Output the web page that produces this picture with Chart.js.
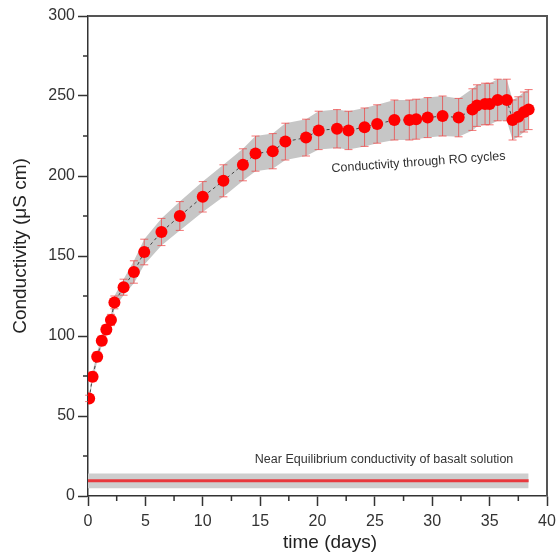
<!DOCTYPE html>
<html><head><meta charset="utf-8">
<script src="https://cdn.jsdelivr.net/npm/chart.js@4/dist/chart.umd.min.js"></script>
<style>html,body{margin:0;padding:0;background:#fff;} #wrap{width:558px;height:555px;}</style>
</head><body><div id="wrap"><canvas id="c" width="558" height="555"></canvas></div>
<script>
// ---- data ----
const days = [0.1, 0.4, 0.8, 1.2, 1.6, 2.0, 2.3, 3.1, 4.0, 4.9,
  6.4, 8.0, 10.0, 11.8, 13.5, 14.6, 16.1, 17.2, 19.0, 20.1,
  21.7, 22.7, 24.1, 25.2, 26.7, 28.0, 28.6, 29.6, 30.9, 32.3,
  33.5, 33.9, 34.6, 35.0, 35.7, 36.5, 37.0, 37.5, 38.0, 38.4];
const conductivity = [61, 74.5, 87, 97, 104, 110, 121, 130.5, 140, 152.5,
  165, 175, 187, 197, 207, 214, 215.5, 221.5, 224, 228.5,
  229.5, 228.5, 230.5, 232.5, 235, 235, 235.5, 236.5, 237.5, 236.5,
  241.5, 244, 245, 245, 247.5, 247.5, 235, 237, 240, 241.5];
const errors = [2, 3, 3, 3, 3, 3.5, 4, 5, 7, 8,
  8.5, 9, 9.5, 10, 10, 11, 11, 11.5, 11.5, 12,
  12, 12, 12, 12, 12.5, 12.5, 12.5, 12.5, 12.5, 12,
  13, 13, 13, 13, 13, 13, 12.5, 12.5, 12.5, 12.5];
const eqDays = [0, 38.4];
const eqValue = [9.5, 9.5];
const eqError = [4.6, 4.6];
const xTickValues = [0, 5, 10, 15, 20, 25, 30, 35, 40];
const yTickValues = [0, 50, 100, 150, 200, 250, 300];
const labelRO = 'Conductivity through RO cycles';
const labelEq = 'Near Equilibrium conductivity of basalt solution';
const xTitle = 'time (days)';
const yTitle = 'Conductivity (\u03BCS cm)';

// ---- build datasets ----
const pts = (xs, ys) => xs.map((x, i) => ({x: x, y: ys[i]}));
const upper = conductivity.map((v, i) => v + errors[i]);
const lower = conductivity.map((v, i) => v - errors[i]);
const eqUpper = eqValue.map((v, i) => v + eqError[i]);
const eqLower = eqValue.map((v, i) => v - eqError[i]);

const FONT = '"Liberation Sans", Arial, sans-serif';
const TXT = '#333333';

const extras = {
  id: 'extras',
  beforeDatasetDraw(chart, args) {
    if (args.index !== 5) return;
    const {ctx} = chart;
    const xs = chart.scales.x, ys = chart.scales.y;
    ctx.save();
    ctx.strokeStyle = 'rgba(238,70,70,0.75)';
    ctx.lineWidth = 1;
    days.forEach((d, i) => {
      const px = xs.getPixelForValue(d);
      const t = ys.getPixelForValue(upper[i]);
      const b = ys.getPixelForValue(lower[i]);
      ctx.beginPath();
      ctx.moveTo(px, t); ctx.lineTo(px, b);
      ctx.moveTo(px - 4, t); ctx.lineTo(px + 4, t);
      ctx.moveTo(px - 4, b); ctx.lineTo(px + 4, b);
      ctx.stroke();
    });
    ctx.restore();
  },
  afterDraw(chart) {
    const {ctx, chartArea: a} = chart;
    const xs = chart.scales.x, ys = chart.scales.y;
    ctx.save();
    // box top / right
    ctx.strokeStyle = '#555';
    ctx.lineWidth = 2;
    ctx.beginPath();
    ctx.moveTo(a.left, a.top); ctx.lineTo(a.right, a.top); ctx.lineTo(a.right, a.bottom);
    ctx.stroke();
    // minor ticks
    ctx.strokeStyle = '#333';
    ctx.lineWidth = 1.5;
    ctx.beginPath();
    xs.ticks.forEach(t => {
      if (xTickValues.includes(t.value)) return;
      const p = xs.getPixelForValue(t.value);
      ctx.moveTo(p, a.bottom); ctx.lineTo(p, a.bottom + 5);
    });
    ys.ticks.forEach(t => {
      if (yTickValues.includes(t.value)) return;
      const p = ys.getPixelForValue(t.value);
      ctx.moveTo(a.left, p); ctx.lineTo(a.left - 5, p);
    });
    ctx.stroke();
    // annotations
    ctx.fillStyle = TXT;
    ctx.font = '12.5px ' + FONT;
    ctx.textAlign = 'center';
    ctx.textBaseline = 'middle';
    ctx.save();
    ctx.translate(xs.getPixelForValue(28.8), ys.getPixelForValue(208.5));
    ctx.rotate(-4.2 * Math.PI / 180);
    ctx.fillText(labelRO, 0, 0);
    ctx.restore();
    ctx.fillText(labelEq, xs.getPixelForValue(25.8), ys.getPixelForValue(23));
    // axis titles
    ctx.fillStyle = '#222';
    ctx.font = '19px ' + FONT;
    ctx.fillText(xTitle, 330, 543);
    ctx.save();
    ctx.translate(21, 246);
    ctx.rotate(-Math.PI / 2);
    ctx.fillText(yTitle, 0, 0);
    ctx.restore();
    ctx.restore();
  }
};

new Chart(document.getElementById('c'), {
  type: 'line',
  data: {
    datasets: [
      {data: pts(days, upper), borderWidth: 0, pointRadius: 0, fill: '+1',
       backgroundColor: 'rgb(198,198,198)', borderColor: 'rgba(0,0,0,0)', order: 5},
      {data: pts(days, lower), borderWidth: 0, pointRadius: 0, fill: false,
       borderColor: 'rgba(0,0,0,0)', order: 5},
      {data: pts(eqDays, eqUpper), borderWidth: 0, pointRadius: 0, fill: '+1',
       backgroundColor: 'rgb(206,206,206)', borderColor: 'rgba(0,0,0,0)', order: 4},
      {data: pts(eqDays, eqLower), borderWidth: 0, pointRadius: 0, fill: false,
       borderColor: 'rgba(0,0,0,0)', order: 4},
      {data: pts(eqDays, eqValue), borderWidth: 3, pointRadius: 0, fill: false,
       borderColor: '#e8383d', order: 3},
      {data: pts(days, conductivity), borderWidth: 1, borderColor: '#444', borderDash: [3, 3],
       pointRadius: 6, pointBackgroundColor: '#ff0000', pointBorderColor: '#ff0000',
       pointBorderWidth: 0, fill: false, order: 1}
    ]
  },
  options: {
    responsive: false,
    animation: false,
    devicePixelRatio: 1,
    layout: {padding: {top: 16, right: 11, left: 0, bottom: 0}},
    plugins: {legend: {display: false}, tooltip: {enabled: false}},
    scales: {
      x: {
        type: 'linear', min: 0, max: 40,
        afterFit: s => { s.height = 59; s.paddingLeft = 0; s.paddingRight = 0; },
        border: {display: true, color: '#333', width: 1.5},
        grid: {drawOnChartArea: false, drawTicks: true, tickLength: 10, tickWidth: 1.5,
               tickColor: c => xTickValues.includes(c.tick.value) ? '#333' : 'rgba(0,0,0,0)'},
        ticks: {stepSize: 2.5, autoSkip: false, maxRotation: 0, padding: 6,
                color: TXT, font: {size: 16, family: FONT},
                callback: v => xTickValues.includes(v) ? String(v) : ''}
      },
      y: {
        type: 'linear', min: 0, max: 300,
        afterFit: s => { s.width = 88; s.paddingTop = 0; s.paddingBottom = 0; },
        border: {display: true, color: '#333', width: 1.5},
        grid: {drawOnChartArea: false, drawTicks: true, tickLength: 10, tickWidth: 1.5,
               tickColor: c => yTickValues.includes(c.tick.value) ? '#333' : 'rgba(0,0,0,0)'},
        ticks: {stepSize: 25, autoSkip: false, padding: 3,
                color: TXT, font: {size: 16, family: FONT},
                callback: v => yTickValues.includes(v) ? String(v) : ''}
      }
    }
  },
  plugins: [extras]
});
</script></body></html>
